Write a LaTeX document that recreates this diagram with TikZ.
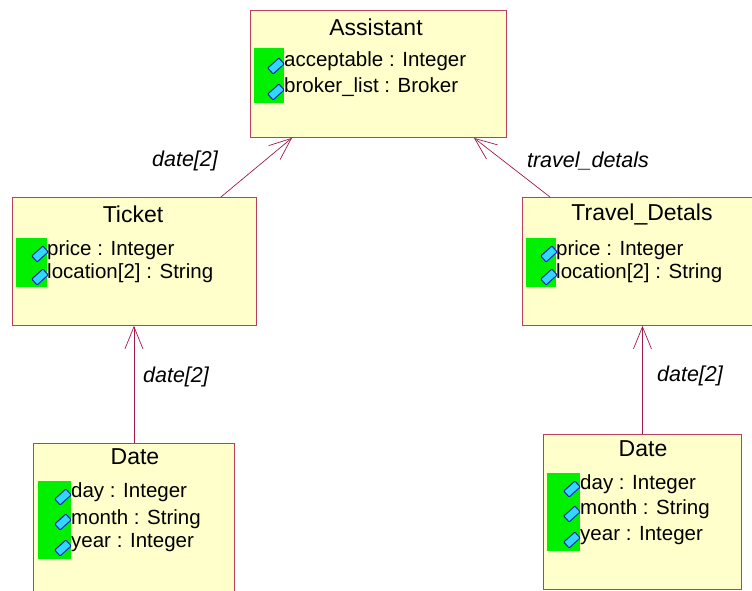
\documentclass[tikz,border=0pt]{standalone}
\usepackage{fontspec}
\setmainfont{Liberation Sans}
\usetikzlibrary{arrows.meta, positioning}
\definecolor{umlfill}{HTML}{FFFFCC}
\definecolor{umlborder}{HTML}{B8405C}
\definecolor{umlline}{HTML}{A0184C}
\definecolor{umlgreen}{HTML}{00F000}
\definecolor{iconfill}{HTML}{30D8FF}
\definecolor{iconedge}{HTML}{1020C0}
\tikzset{
  classbox/.style={draw=umlborder, fill=umlfill, line width=0.9pt, anchor=north west, inner sep=0pt},
  attrbar/.style={fill=umlgreen, anchor=north west, inner sep=0pt},
  attricon/.style={draw=iconedge, fill=iconfill, line width=1pt, rounded corners=1pt,
    minimum width=15pt, minimum height=8pt, inner sep=0pt, rotate=42},
  attr/.style={anchor=west, inner sep=0pt, font=\fontsize{20.5}{20.5}\selectfont},
  classname/.style={font=\fontsize{23}{23}\selectfont},
  role/.style={font=\itshape\fontsize{21.5}{21.5}\selectfont},
  assoc/.style={draw=umlline, line width=0.7pt, -{Straight Barb[length=22pt,width=18pt,line width=0.7pt]}}
}
\begin{document}
\begin{tikzpicture}[x=1pt, y=-1pt]
  \useasboundingbox (0,0) rectangle (752,591);
%% Assistant
  \node[classbox, minimum width=256pt, minimum height=127pt] (assistant) at (250,10) {};
  \node[classname] (assistantname) at (376,27) {Assistant};
  \node[attrbar, minimum width=30pt, minimum height=55pt] (assistantbar) at (254,48) {};
  \node[attricon] (assistanticon1) at (276,66) {};
  \node[attricon] (assistanticon2) at (276,92) {};
  \node[attr] (acceptable) at (284,61) {acceptable : Integer};
  \node[attr] (brokerlist) at (284,87) {broker\_list : Broker};
%% Ticket
  \node[classbox, minimum width=244pt, minimum height=128pt] (ticket) at (12,197) {};
  \node[classname] (ticketname) at (133,214) {Ticket};
  \node[attrbar, minimum width=31pt, minimum height=49pt] (ticketbar) at (16,238) {};
  \node[attricon] (ticketicon1) at (40,254) {};
  \node[attricon] (ticketicon2) at (40,277) {};
  \node[attr] (ticketprice) at (47,250) {price : Integer};
  \node[attr] (ticketlocation) at (47,273) {location[2] : String};
%% Travel_Detals
  \node[classbox, minimum width=240pt, minimum height=128pt] (travel) at (522,197) {};
  \node[classname] (travelname) at (642,214) {Travel\_Detals};
  \node[attrbar, minimum width=30pt, minimum height=49pt] (travelbar) at (526,238) {};
  \node[attricon] (travelicon1) at (549,254) {};
  \node[attricon] (travelicon2) at (549,277) {};
  \node[attr] (travelprice) at (556,250) {price : Integer};
  \node[attr] (travellocation) at (556,273) {location[2] : String};
%% Date (left)
  \node[classbox, minimum width=201pt, minimum height=160pt] (datea) at (33,443) {};
  \node[classname] (dateaname) at (135,457) {Date};
  \node[attrbar, minimum width=33pt, minimum height=78pt] (dateabar) at (38,481) {};
  \node[attricon] (dateaicon1) at (63,497) {};
  \node[attricon] (dateaicon2) at (63,522) {};
  \node[attricon] (dateaicon3) at (63,548) {};
  \node[attr] (dateaday) at (71,492) {day : Integer};
  \node[attr] (dateamonth) at (71,519) {month : String};
  \node[attr] (dateayear) at (71,543) {year : Integer};
%% Date (right)
  \node[classbox, minimum width=198pt, minimum height=155pt] (dateb) at (543,434) {};
  \node[classname] (datebname) at (643,449) {Date};
  \node[attrbar, minimum width=33pt, minimum height=78pt] (datebbar) at (547,473) {};
  \node[attricon] (datebicon1) at (572,489) {};
  \node[attricon] (datebicon2) at (572,514) {};
  \node[attricon] (datebicon3) at (572,540) {};
  \node[attr] (datebday) at (580,484) {day : Integer};
  \node[attr] (datebmonth) at (580,509) {month : String};
  \node[attr] (datebyear) at (580,536) {year : Integer};
%% associations
  \draw[assoc] ([xshift=-36pt]ticket.north east) -- ([xshift=42pt]assistant.south west);
  \draw[assoc] ([xshift=28pt]travel.north west) -- ([xshift=-33pt]assistant.south east);
  \draw[assoc] (datea.north) -- (datea.north |- ticket.south);
  \draw[assoc] (dateb.north) -- (dateb.north |- travel.south);
  \node[role] (roleticket) at (185,161) {date[2]};
  \node[role] (roletravel) at (588,161) {travel\_detals};
  \node[role] (roledatea) at (176,377) {date[2]};
  \node[role] (roledateb) at (690,376) {date[2]};
\end{tikzpicture}
\end{document}
